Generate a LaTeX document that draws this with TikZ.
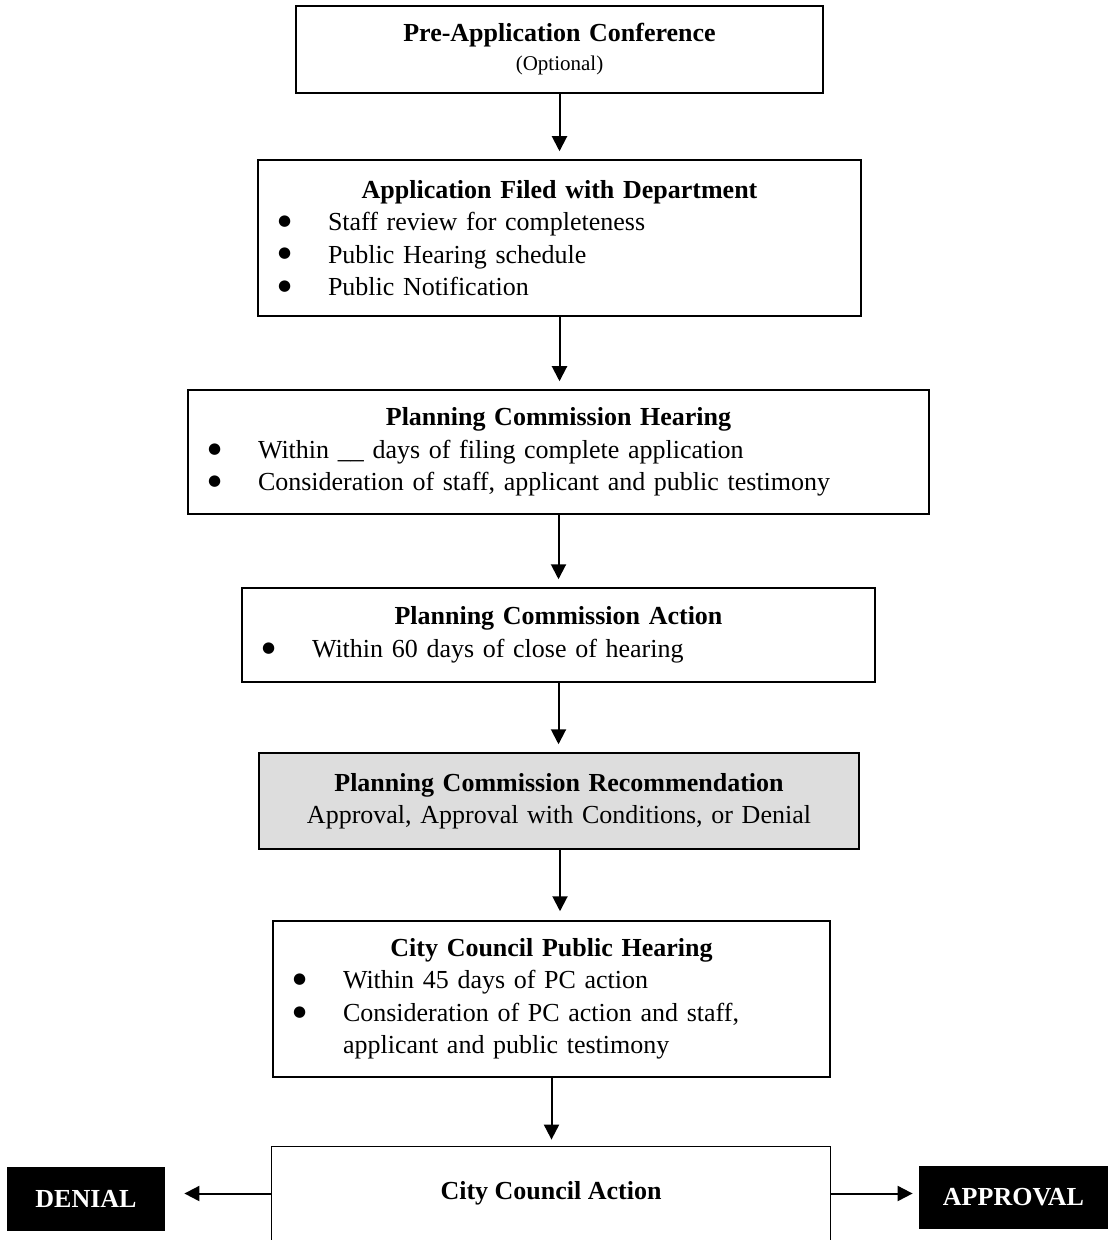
\documentclass[tikz,border=0pt]{standalone}
\usepackage{fontspec}
\setmainfont{Liberation Serif}
\newfontfamily\dejavu{DejaVu Sans}
\usetikzlibrary{arrows.meta,calc}
\newcommand\bigbul{\raisebox{2.6pt}{\dejavu\fontsize{7.5pt}{7.5pt}\selectfont ●}}
\newcommand\bitem[1]{\par\makebox[\linewidth][l]{\hspace*{10pt}\makebox[25pt][l]{\bigbul}\parbox[t]{\dimexpr\linewidth-35pt\relax}{\raggedright #1}}}
\tikzset{
  every node/.style={font=\fontsize{13pt}{16.25pt}\selectfont},
  flowbox/.style={draw, line width=0.75pt, rectangle, inner xsep=0pt, inner ysep=0pt, align=center},
  endbox/.style={fill=black, text=white, inner sep=0pt, font=\fontsize{13pt}{16.25pt}\selectfont\bfseries},
  arr/.style={line width=1pt, -{Triangle[length=7.5pt,width=7.5pt]}},
}
\begin{document}
\begin{tikzpicture}[x=0.5pt,y=-0.5pt]
\useasboundingbox (0,0) rectangle (1109,1240);

\node[flowbox, text width=263.5pt, minimum height=43.5pt] (b1) at (559.5,49.5)
  {{\bfseries Pre-Application Conference}\par{\fontsize{10.5pt}{14.5pt}\selectfont (Optional)\par}};

\node[flowbox, text width=301.5pt, minimum height=78pt] (b2) at (559.5,238)
  {{\bfseries Application Filed with Department}
   \bitem{Staff review for completeness}
   \bitem{Public Hearing schedule}
   \bitem{Public Notification}};

\node[flowbox, text width=370.5pt, minimum height=62pt] (b3) at (558.5,452)
  {{\bfseries Planning Commission Hearing}
   \bitem{Within \_\_ days of filing complete application}
   \bitem{Consideration of staff, applicant and public testimony}};

\node[flowbox, text width=316.5pt, minimum height=47pt] (b4) at (558.5,635)
  {{\bfseries Planning Commission Action}
   \bitem{Within 60 days of close of hearing}};

\node[flowbox, fill={rgb,255:red,221;green,221;blue,221}, text width=300pt, minimum height=48pt] (b5) at (559,801)
  {{\bfseries Planning Commission Recommendation}\par Approval, Approval with Conditions, or Denial};

\node[flowbox, text width=278.5pt, minimum height=78pt] (b6) at (551.5,999)
  {{\bfseries City Council Public Hearing}
   \bitem{Within 45 days of PC action}
   \bitem{Consideration of PC action and staff,\\ applicant and public testimony}};

\node[rectangle, inner sep=0pt, minimum width=279pt, minimum height=46.5pt, font=\fontsize{13pt}{16.25pt}\selectfont\bfseries] (b7) at (551,1193.5) {City Council Action};
\draw[line width=0.75pt] (b7.south west) -- (b7.north west) -- (b7.north east) -- (b7.south east);

\node[endbox, minimum width=79pt, minimum height=32pt] (den) at (86,1199) {DENIAL};
\node[endbox, minimum width=94.5pt, minimum height=31.5pt] (app) at (1013.5,1197.5) {APPROVAL};

\draw[arr, shorten >=4pt] (b1.south) -- (b1.south |- b2.north);
\draw[arr, shorten >=4pt] (b2.south) -- (b2.south |- b3.north);
\draw[arr, shorten >=4pt] (b3.south) -- (b3.south |- b4.north);
\draw[arr, shorten >=4pt] (b4.south) -- (b4.south |- b5.north);
\draw[arr, shorten >=4.5pt] ($(b5.south)+(1,0)$) -- ($(b5.south |- b6.north)+(1,0)$);
\draw[arr, shorten >=3.5pt] (b6.south) -- (b6.south |- b7.north);
\draw[arr, shorten >=9.5pt] (b7.west) -- (b7.west -| den.east);
\draw[arr, shorten >=3pt] (b7.east) -- (b7.east -| app.west);
\end{tikzpicture}
\end{document}
